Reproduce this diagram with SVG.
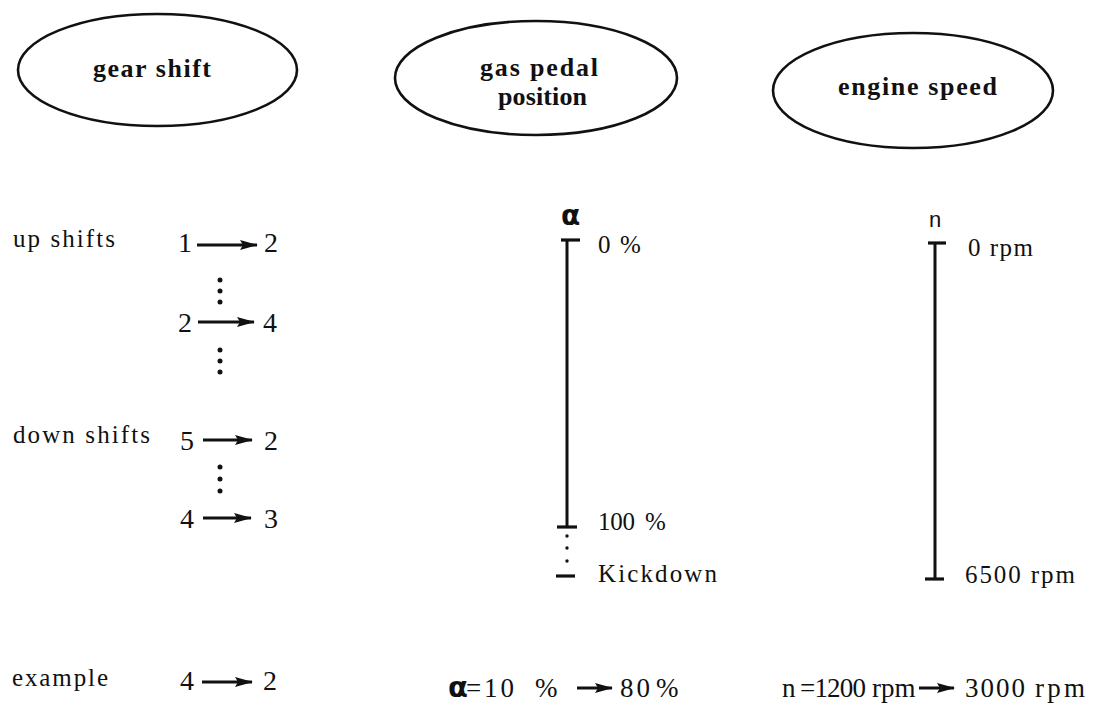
<svg xmlns="http://www.w3.org/2000/svg" width="1110" height="709" viewBox="0 0 1110 709">
<defs>
<marker id="ah" markerWidth="18" markerHeight="11" refX="17" refY="5.5" orient="auto" markerUnits="userSpaceOnUse">
<path d="M0,0.5 L18,5.5 L0,10.5 L3,5.5 Z" fill="#111"/>
</marker>
<style>
.ell{fill:none;stroke:#111;stroke-width:2.6}
.title{font-family:"Liberation Serif",serif;font-weight:bold;font-size:26px;fill:#111}
.lbl{font-family:"Liberation Serif",serif;font-size:25px;fill:#111}
.num{font-family:"Liberation Serif",serif;font-size:28px;fill:#111}
.val{font-family:"Liberation Serif",serif;font-size:25px;fill:#111}
.bot{font-family:"Liberation Serif",serif;font-size:27px;fill:#111}
.sym{font-family:"DejaVu Sans",sans-serif;font-weight:bold;fill:#111}
.arr{stroke:#111;stroke-width:2.8;fill:none;marker-end:url(#ah)}
.axis{stroke:#111;stroke-width:3;fill:none}
.tick{stroke:#111;stroke-width:3.2;fill:none}
.dot{fill:#111}
</style>
</defs>
<rect width="1110" height="709" fill="#fff"/>

<g id="node-gear-shift">
<ellipse class="ell" cx="157.5" cy="70" rx="139.5" ry="56"/>
<text class="title" x="93" y="77" textLength="118" lengthAdjust="spacing">gear shift</text>
</g>

<g id="node-gas-pedal">
<ellipse class="ell" cx="536" cy="78" rx="141" ry="57"/>
<text class="title" x="480" y="76" textLength="118" lengthAdjust="spacing">gas pedal</text>
<text class="title" x="498" y="105" textLength="89" lengthAdjust="spacing">position</text>
</g>

<g id="node-engine-speed">
<ellipse class="ell" cx="913" cy="90.5" rx="140" ry="57.5"/>
<text class="title" x="838" y="95" textLength="159" lengthAdjust="spacing">engine speed</text>
</g>

<g id="gear-shift-list">
<text class="lbl" x="13" y="247" textLength="102" lengthAdjust="spacing">up shifts</text>
<text class="num" x="178" y="252">1</text>
<text class="num" x="264" y="252">2</text>
<circle class="dot" cx="220" cy="280" r="2.5"/>
<circle class="dot" cx="220" cy="291" r="2.5"/>
<circle class="dot" cx="220" cy="302" r="2.5"/>
<text class="num" x="178" y="332">2</text>
<text class="num" x="263" y="332">4</text>
<circle class="dot" cx="220" cy="350" r="2.5"/>
<circle class="dot" cx="220" cy="361" r="2.5"/>
<circle class="dot" cx="220" cy="372" r="2.5"/>
<text class="lbl" x="13" y="443" textLength="137" lengthAdjust="spacing">down shifts</text>
<text class="num" x="180" y="450">5</text>
<text class="num" x="264" y="450">2</text>
<circle class="dot" cx="220" cy="467" r="2.5"/>
<circle class="dot" cx="220" cy="479" r="2.5"/>
<circle class="dot" cx="220" cy="491" r="2.5"/>
<text class="num" x="180" y="528">4</text>
<text class="num" x="264" y="528">3</text>
<text class="lbl" x="12" y="686" textLength="96" lengthAdjust="spacing">example</text>
<text class="num" x="180" y="690">4</text>
<text class="num" x="263" y="690">2</text>
</g>

<g id="gas-pedal-scale">
<text class="sym" x="561" y="225" font-size="28">α</text>
<line class="axis" x1="567" y1="240" x2="567" y2="527"/>
<line class="tick" x1="561" y1="240" x2="580" y2="240"/>
<line class="tick" x1="557" y1="527" x2="577" y2="527"/>
<circle class="dot" cx="567" cy="536" r="1.7"/>
<circle class="dot" cx="567" cy="548" r="1.7"/>
<circle class="dot" cx="567" cy="561" r="1.7"/>
<line class="tick" x1="556" y1="576" x2="575" y2="576"/>
<text class="val" x="598" y="253">0</text>
<text class="val" x="620" y="253">%</text>
<text class="val" x="598" y="530" textLength="37" lengthAdjust="spacing">100</text>
<text class="val" x="645" y="530">%</text>
<text class="val" x="598" y="582" textLength="119" lengthAdjust="spacing">Kickdown</text>
</g>

<g id="engine-speed-scale">
<text x="929" y="227" font-family="Liberation Sans, sans-serif" font-size="22" fill="#111">n</text>
<line class="axis" x1="935" y1="243" x2="935" y2="579"/>
<line class="tick" x1="928" y1="243" x2="946" y2="243"/>
<line class="tick" x1="925" y1="579" x2="944" y2="579"/>
<text class="val" x="968" y="256" textLength="65" lengthAdjust="spacing">0 rpm</text>
<text class="val" x="965" y="583" textLength="110" lengthAdjust="spacing">6500 rpm</text>
</g>

<g id="example-gas">
<text class="sym" x="448" y="697" font-size="29">α</text>
<text class="bot" x="466" y="697" font-size="23">=</text>
<text class="bot" x="484" y="697" textLength="30" lengthAdjust="spacing">10</text>
<text class="bot" x="535" y="697">%</text>
<text class="bot" x="620" y="697" textLength="30" lengthAdjust="spacing">80</text>
<text class="bot" x="656" y="697">%</text>
</g>

<g id="example-engine">
<text class="bot" x="782" y="697">n</text>
<text class="bot" x="800" y="697" textLength="66" lengthAdjust="spacing">=1200</text>
<text class="bot" x="872" y="697" font-size="25">rpm</text>
<text class="bot" x="965" y="697" textLength="60" lengthAdjust="spacing">3000</text>
<text class="bot" x="1035" y="697" textLength="50" lengthAdjust="spacing">rpm</text>
</g>

<g id="connectors">
<line class="arr" x1="197" y1="245" x2="257" y2="245"/>
<line class="arr" x1="198" y1="322" x2="254" y2="322"/>
<line class="arr" x1="203" y1="440" x2="252" y2="440"/>
<line class="arr" x1="203" y1="518" x2="251" y2="518"/>
<line class="arr" x1="202" y1="682" x2="252" y2="682"/>
<line class="arr" x1="577" y1="688" x2="612" y2="688"/>
<line class="arr" x1="919" y1="688" x2="954" y2="688"/>
</g>
</svg>
